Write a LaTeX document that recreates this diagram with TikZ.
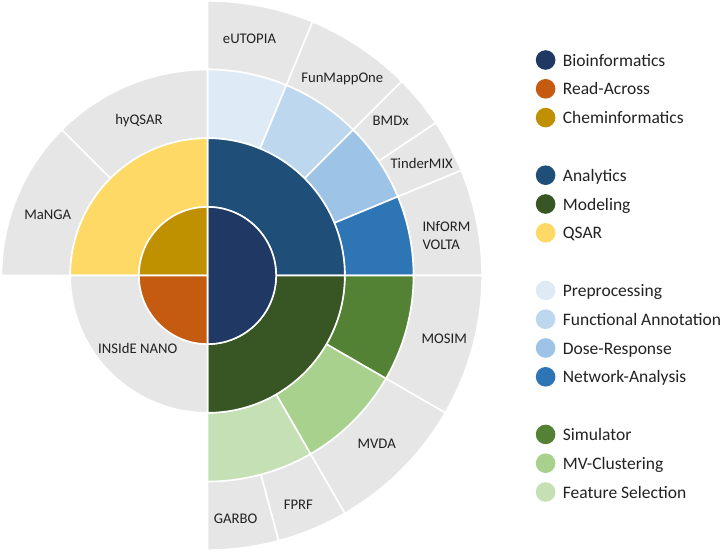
\documentclass[tikz,border=0pt]{standalone}
\usepackage{fontspec}
\setmainfont{Carlito}
\definecolor{bioC}{HTML}{203864}
\definecolor{readC}{HTML}{C55A11}
\definecolor{chemC}{HTML}{BF9000}
\definecolor{anaC}{HTML}{1F4E79}
\definecolor{modC}{HTML}{375623}
\definecolor{qsarC}{HTML}{FFD966}
\definecolor{preC}{HTML}{DEEBF7}
\definecolor{funC}{HTML}{BDD7EE}
\definecolor{doseC}{HTML}{9DC3E6}
\definecolor{netC}{HTML}{2E75B6}
\definecolor{simC}{HTML}{548235}
\definecolor{mvC}{HTML}{A9D18E}
\definecolor{featC}{HTML}{C5E0B4}
\definecolor{grayC}{HTML}{E7E6E6}
\definecolor{txtC}{HTML}{222222}
\tikzset{
  sec/.style={draw=white, line width=1.6pt, line join=round},
  lab/.style={font=\fontsize{14.7}{17}\selectfont, text=txtC, inner sep=0pt, anchor=base},
  labw/.style={lab, anchor=base west},
  legtxt/.style={font=\fontsize{17.5}{20}\selectfont, text=txtC, inner sep=0pt, anchor=base west},
  dot/.style={circle, inner sep=0pt, minimum size=19.6pt}
}
\newcommand{\sect}[5]{\filldraw[sec, fill=#1] (#2:#4pt) arc[start angle=#2, end angle=#3, radius=#4pt] -- (#3:#5pt) arc[start angle=#3, end angle=#2, radius=#5pt] -- cycle;}
\newcommand{\piece}[4]{\filldraw[sec, fill=#1] (0,0) -- (#2:#4pt) arc[start angle=#2, end angle=#3, radius=#4pt] -- cycle;}
\begin{document}
\begin{tikzpicture}[x=1pt,y=1pt]
\useasboundingbox (0,0) rectangle (723,-552);
\fill[white] (0,0) rectangle (723,-552);
\begin{scope}[shift={(207.5,-275.5)}]
  % outermost ring
  \sect{grayC}{67.5}{90}{206}{274.6}
  \sect{grayC}{45}{67.5}{206}{274.6}
  \sect{grayC}{33.75}{45}{206}{274.6}
  \sect{grayC}{22.5}{33.75}{206}{274.6}
  \sect{grayC}{0}{22.5}{206}{274.6}
  \sect{grayC}{-30}{0}{206}{274.6}
  \sect{grayC}{-60}{-30}{206}{274.6}
  \sect{grayC}{-75}{-60}{206}{274.6}
  \sect{grayC}{-90}{-75}{206}{274.6}
  % third ring
  \sect{preC}{67.5}{90}{137.3}{206}
  \sect{funC}{45}{67.5}{137.3}{206}
  \sect{doseC}{22.5}{45}{137.3}{206}
  \sect{netC}{0}{22.5}{137.3}{206}
  \sect{simC}{-30}{0}{137.3}{206}
  \sect{mvC}{-60}{-30}{137.3}{206}
  \sect{featC}{-90}{-60}{137.3}{206}
  \sect{grayC}{90}{135}{137.3}{206}
  \sect{grayC}{135}{180}{137.3}{206}
  % second ring
  \sect{anaC}{0}{90}{68.6}{137.3}
  \sect{modC}{-90}{0}{68.6}{137.3}
  \sect{qsarC}{90}{180}{68.6}{137.3}
  \sect{grayC}{180}{270}{68.6}{137.3}
  % centre
  \piece{bioC}{-90}{90}{68.6}
  \piece{chemC}{90}{180}{68.6}
  \piece{readC}{180}{270}{68.6}
\end{scope}
% labels
\node[lab] (eutopia) at (249.5,-43.5) {eUTOPIA};
\node[lab] (funmapp) at (342.3,-82.3) {FunMappOne};
\node[lab] (bmdx) at (390.7,-125.3) {BMDx};
\node[lab] (tinder) at (421.7,-168) {TinderMIX};
\node[labw] (inform) at (422.3,-231.4) {INfORM};
\node[labw] (volta) at (422.3,-249.7) {VOLTA};
\node[lab] (hyqsar) at (139,-124.7) {hyQSAR};
\node[lab] (manga) at (47.7,-219) {MaNGA};
\node[lab] (inside) at (137.7,-353) {INSIdE NANO};
\node[lab] (mosim) at (444.3,-343.7) {MOSIM};
\node[lab] (mvda) at (376.7,-448) {MVDA};
\node[lab] (fprf) at (298.3,-509) {FPRF};
\node[lab] (garbo) at (235.7,-523) {GARBO};
% legend
\foreach \i/\yy/\col/\txt in {1/60/bioC/Bioinformatics, 2/88.8/readC/Read-Across, 3/117.6/chemC/Cheminformatics,
  4/175.2/anaC/Analytics, 5/204/modC/Modeling, 6/232.8/qsarC/QSAR,
  7/290.4/preC/Preprocessing, 8/319.2/funC/Functional Annotation, 9/348/doseC/Dose-Response, 10/376.8/netC/Network-Analysis,
  11/434.4/simC/Simulator, 12/463.2/mvC/MV-Clustering, 13/492/featC/Feature Selection}{
  \node[dot, fill=\col] (ld\i) at (545.6,-\yy) {};
  \node[legtxt] (lt\i) at (562.7,-\yy-6) {\txt};
}
\end{tikzpicture}
\end{document}
